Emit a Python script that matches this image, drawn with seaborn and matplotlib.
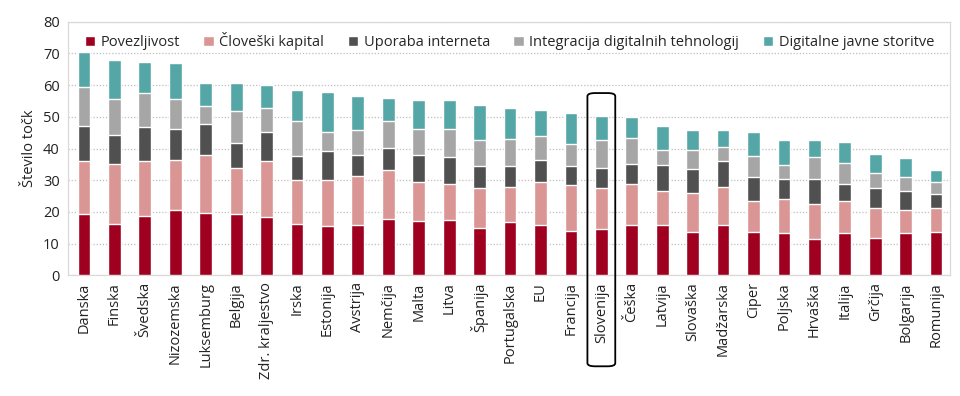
import numpy as np
import pandas as pd
import seaborn as sns
import matplotlib.pyplot as plt
from matplotlib.patches import FancyBboxPatch, Patch

#%% DATA

countries = ['Danska', 'Finska', 'Švedska', 'Nizozemska', 'Luksemburg', 'Belgija',
             'Zdr. kraljestvo', 'Irska', 'Estonija', 'Avstrija', 'Nemčija', 'Malta',
             'Litva', 'Španija', 'Portugalska', 'EU', 'Francija', 'Slovenija', 'Češka',
             'Latvija', 'Slovaška', 'Madžarska', 'Ciper', 'Poljska', 'Hrvaška',
             'Italija', 'Grčija', 'Bolgarija', 'Romunija']

povezljivost = [19.2, 16.1, 18.8, 20.5, 19.6, 19.4, 18.4, 16.1, 15.6, 15.9, 17.9, 17.1,
                17.5, 14.9, 16.8, 15.9, 13.9, 14.5, 15.7, 15.9, 13.6, 15.9, 13.6, 13.2,
                11.3, 13.4, 11.9, 13.2, 13.6]
cloveski_kapital = [17.0, 19.1, 17.4, 16.0, 18.3, 14.3, 17.8, 14.1, 14.4, 15.5, 15.4, 12.2,
                    11.3, 12.5, 11.1, 13.4, 14.5, 13.0, 13.2, 10.8, 12.5, 12.1, 9.7, 11.0,
                    11.3, 9.9, 9.3, 7.5, 7.6]
uporaba_interneta = [11.0, 9.2, 10.7, 9.5, 9.8, 7.9, 9.1, 7.3, 9.1, 6.5, 7.0, 8.8,
                     8.5, 7.0, 6.7, 7.2, 6.1, 6.3, 6.3, 8.2, 7.5, 7.9, 7.6, 6.1,
                     7.7, 5.4, 6.3, 5.8, 4.3]
integracija = [12.3, 11.2, 10.7, 9.6, 5.7, 10.3, 7.4, 11.1, 6.2, 7.9, 8.4, 8.1,
               8.8, 8.3, 8.3, 7.4, 6.9, 8.9, 8.2, 4.7, 6.0, 4.6, 6.8, 4.4,
               7.0, 6.7, 4.8, 4.4, 3.9]
javne_storitve = [11.0, 12.2, 9.8, 11.5, 7.4, 8.7, 7.4, 9.9, 12.6, 10.8, 7.1, 9.1,
                  9.2, 11.0, 9.8, 8.4, 9.7, 7.7, 6.6, 7.6, 6.2, 5.3, 7.6, 7.9,
                  5.3, 6.7, 6.0, 6.2, 3.9]

series_names = ['Povezljivost', 'Človeški kapital', 'Uporaba interneta',
                'Integracija digitalnih tehnologij', 'Digitalne javne storitve']
colors = ['#A00020', '#DA9694', '#505050', '#A6A6A6', '#55A6A6']

df = pd.DataFrame({'country': countries,
                   series_names[0]: povezljivost,
                   series_names[1]: cloveski_kapital,
                   series_names[2]: uporaba_interneta,
                   series_names[3]: integracija,
                   series_names[4]: javne_storitve})

#%% PLOT

sns.set_style('white')
plt.rcParams['font.family'] = ['Open Sans', 'DejaVu Sans']

fig, ax = plt.subplots(figsize=(9.6, 3.96), dpi=100)
fig.subplots_adjust(left=0.071, right=0.99, top=0.945, bottom=0.305)

# stacked bars: draw cumulative totals from the top layer down
cum = df[series_names].cumsum(axis=1)
for name, col in reversed(list(zip(series_names, colors))):
    sns.barplot(x=df['country'], y=cum[name], color=col, width=0.42, ax=ax,
                saturation=1, zorder=3)

ax.set_ylim(0, 80)
ax.set_xlim(-0.52, 28.47)
ax.set_yticks(range(0, 81, 10))
ax.yaxis.grid(True, color='#BFBFBF', linestyle=(0, (1, 1.5)), linewidth=0.9, zorder=0)
ax.set_xlabel('')
ax.set_ylabel('Število točk', fontsize=10.5, color='#222222')
ax.tick_params(axis='x', rotation=90, labelsize=10.5, colors='#222222', length=0, pad=5)
ax.tick_params(axis='y', labelsize=10.5, colors='#222222', length=0, pad=6)
for s in ax.spines.values():
    s.set_color('#D9D9D9')
    s.set_linewidth(0.9)

handles = [Patch(facecolor=c, label=n) for n, c in zip(series_names, colors)]
ax.legend(handles=handles, ncol=5, loc='upper center', bbox_to_anchor=(0.5, 1.0),
          frameon=False, fontsize=10.5, handlelength=0.7, handleheight=0.7,
          handletextpad=0.4, columnspacing=1.6, borderaxespad=0.3)

# highlight Slovenija
x0 = ax.transData.transform((17, 0))[0]
box = FancyBboxPatch((x0 / 960 - 0.0145, 0.075), 0.029, 0.69,
                     boxstyle='round,pad=0,rounding_size=0.008', transform=fig.transFigure,
                     facecolor='none', edgecolor='black', linewidth=1.3, clip_on=False,
                     zorder=10)
fig.patches.append(box)

plt.savefig('out.png', dpi=100)
